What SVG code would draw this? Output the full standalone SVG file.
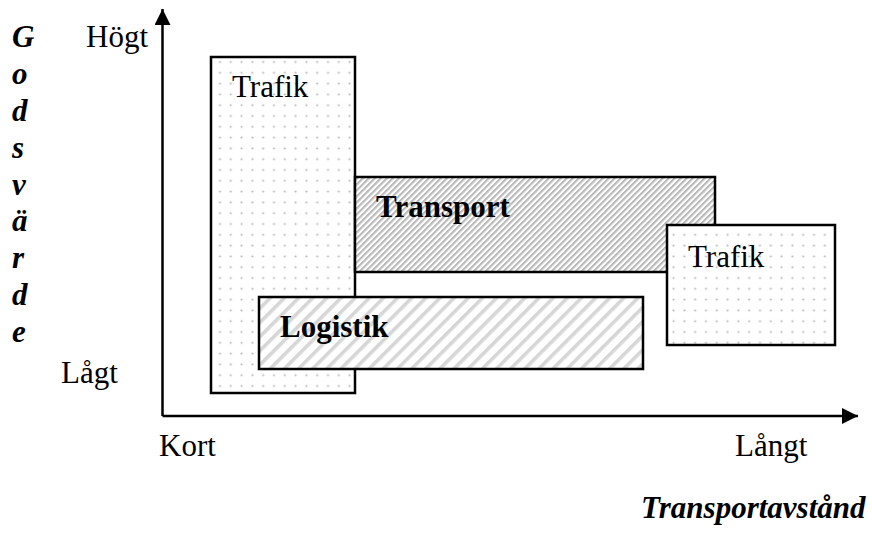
<svg xmlns="http://www.w3.org/2000/svg" width="872" height="536" viewBox="0 0 872 536">
  <style>
    .lbl { font-family: "Liberation Serif", "Times New Roman", serif; font-size: 31px; fill: #000; }
    .bold { font-weight: bold; }
    .bi { font-weight: bold; font-style: italic; }
    .box { stroke: #000; stroke-width: 2.5; }
    .axis { stroke: #000; stroke-width: 2.5; fill: none; }
  </style>
  <defs>
    <!-- light dotted fill -->
    <pattern id="dots" patternUnits="userSpaceOnUse" x="214.6" y="56.6" width="10.8" height="10.8">
      <rect width="10.8" height="10.8" fill="#fff"/>
      <circle cx="5.4" cy="5.4" r="1.1" fill="#b8b8b8"/>
    </pattern>
    <!-- dense diagonal hatch -->
    <pattern id="hatchDense" patternUnits="userSpaceOnUse" width="4.24" height="10" patternTransform="rotate(45)">
      <rect width="4.24" height="10" fill="#fff"/>
      <rect width="2.1" height="10" fill="#b9b9b9"/>
    </pattern>
    <!-- wide diagonal hatch -->
    <pattern id="hatchWide" patternUnits="userSpaceOnUse" width="10" height="10" patternTransform="rotate(45)">
      <rect width="10" height="10" fill="#fff"/>
      <rect width="3.6" height="10" fill="#d6d6d6"/>
    </pattern>
    <marker id="arrow" viewBox="0 0 16 16" refX="16" refY="8" markerWidth="16" markerHeight="16" markerUnits="userSpaceOnUse" orient="auto">
      <path d="M0,0 L16,8 L0,16 Z" fill="#000"/>
    </marker>
  </defs>

  <!-- axes -->
  <g id="connectors">
    <line class="axis" x1="162.5" y1="416" x2="162.5" y2="9" marker-end="url(#arrow)"/>
    <line class="axis" x1="162.5" y1="416" x2="858" y2="416" marker-end="url(#arrow)"/>
  </g>

  <!-- areas -->
  <g id="trafik-short">
    <rect class="box" x="211" y="57" width="144" height="336" fill="url(#dots)"/>
    <text class="lbl" x="232" y="97">Trafik</text>
  </g>
  <g id="transport">
    <rect class="box" x="355" y="177" width="360" height="95" fill="url(#hatchDense)"/>
    <text class="lbl bold" x="376" y="217">Transport</text>
  </g>
  <g id="logistik">
    <rect class="box" x="259" y="297" width="384" height="72" fill="url(#hatchWide)"/>
    <text class="lbl bold" x="280" y="337">Logistik</text>
  </g>
  <g id="trafik-long">
    <rect class="box" x="667" y="225" width="168" height="120" fill="url(#dots)"/>
    <text class="lbl" x="688" y="267">Trafik</text>
  </g>

  <!-- axis labels -->
  <g id="y-labels">
    <text class="lbl" x="86" y="47">Högt</text>
    <text class="lbl" x="61" y="383">Lågt</text>
    <text class="lbl bi" x="12" y="47">G</text>
    <text class="lbl bi" x="12" y="84">o</text>
    <text class="lbl bi" x="12" y="121">d</text>
    <text class="lbl bi" x="12" y="158">s</text>
    <text class="lbl bi" x="12" y="195">v</text>
    <text class="lbl bi" x="12" y="231">ä</text>
    <text class="lbl bi" x="12" y="268">r</text>
    <text class="lbl bi" x="12" y="305">d</text>
    <text class="lbl bi" x="12" y="342">e</text>
  </g>
  <g id="x-labels">
    <text class="lbl" x="159" y="456">Kort</text>
    <text class="lbl" x="735" y="456">Långt</text>
    <text class="lbl bi" x="641" y="518">Transportavstånd</text>
  </g>
</svg>
